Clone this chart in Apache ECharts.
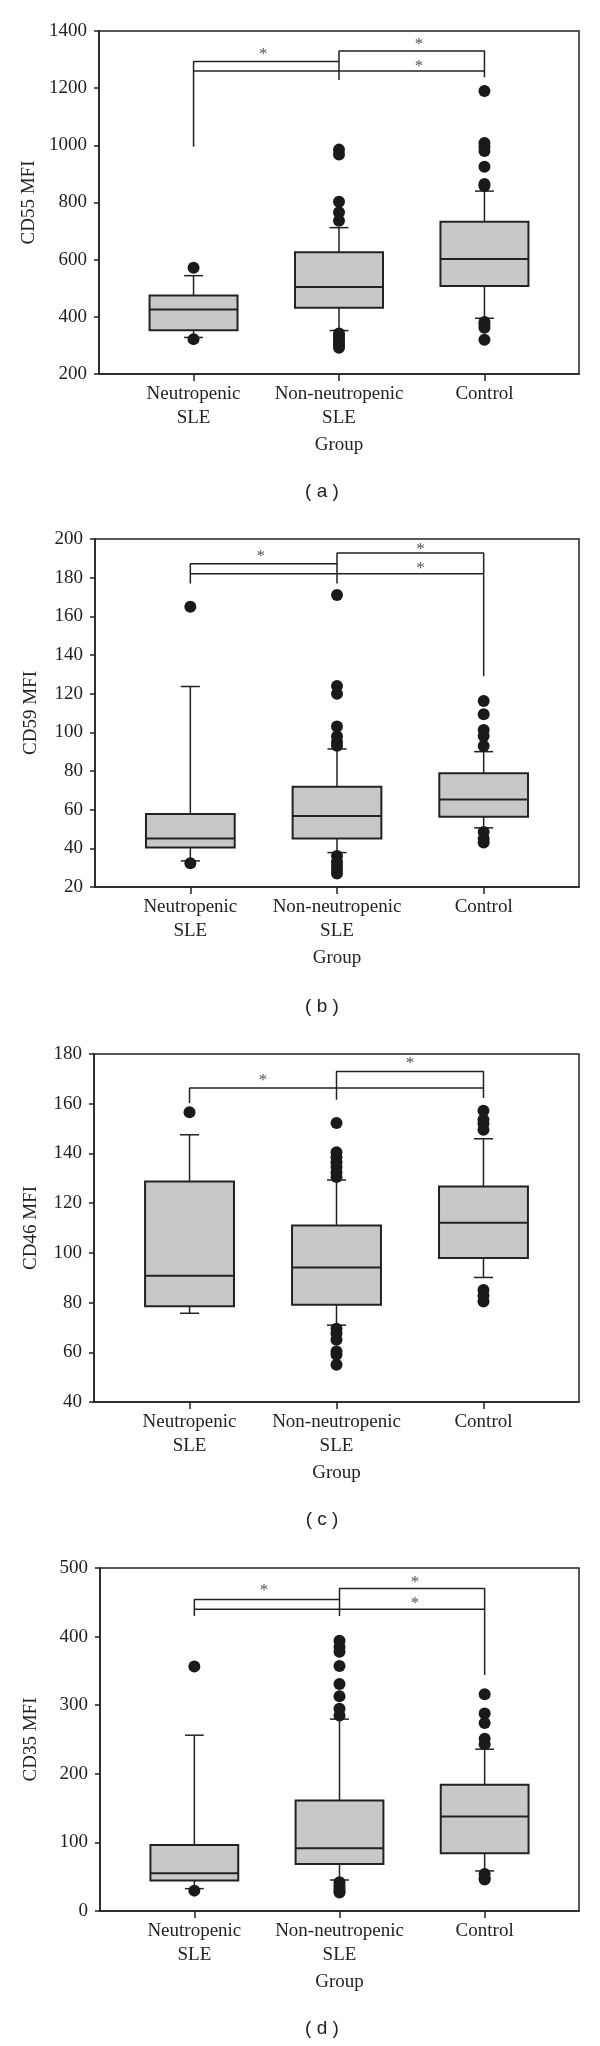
<!DOCTYPE html>
<html><head><meta charset="utf-8">
<script src="https://cdn.jsdelivr.net/npm/echarts@6/dist/echarts.min.js"></script>
<style>html,body{margin:0;padding:0;background:#fff}#c{width:600px;height:2046px}</style>
</head><body><div id="c"></div>
<script>
// ---------- DATA ----------
const categories = ['Neutropenic\nSLE', 'Non-neutropenic\nSLE', 'Control'];
const groupName = 'Group';
const panelLabels = ['( a )', '( b )', '( c )', '( d )'];
const yNames = ['CD55 MFI', 'CD59 MFI', 'CD46 MFI', 'CD35 MFI'];
const yTicks = [[200, 1400, 200], [20, 200, 20], [40, 180, 20], [0, 500, 100]];

// box stats per group: [lower whisker, Q1, median, Q3, upper whisker]
const cd55Box = [[328, 353, 426, 475, 544], [352, 432, 504, 626, 712], [395, 508, 602, 733, 840]];
const cd59Box = [[33.5, 40.4, 45.1, 57.7, 123.7], [37.8, 45.1, 56.7, 71.9, 91.4], [50.6, 56.3, 65.3, 78.8, 90]];
const cd46Box = [[75.7, 78.5, 90.8, 128.7, 147.5], [70.9, 79.1, 94.1, 111, 129.3], [90.1, 97.9, 112.1, 126.7, 145.9]];
const cd35Box = [[32.6, 44.3, 55, 96.3, 256.3], [45.2, 68.6, 91.4, 161, 279.7], [58.4, 84.1, 137.6, 183.9, 235.9]];

// outliers: [group index, value]
const cd55Out = [[0, 572], [0, 322], [1, 985], [1, 968], [1, 803], [1, 766], [1, 736], [1, 342], [1, 333], [1, 322], [1, 312], [1, 302], [1, 292],
  [2, 1190], [2, 1008], [2, 995], [2, 980], [2, 925], [2, 865], [2, 858], [2, 382], [2, 372], [2, 362], [2, 320]];
const cd59Out = [[0, 165], [0, 32.3], [1, 171], [1, 124], [1, 120], [1, 103], [1, 98], [1, 95], [1, 93], [1, 36], [1, 33], [1, 31], [1, 29], [1, 27],
  [2, 116.2], [2, 109.3], [2, 101.2], [2, 98.1], [2, 92.9], [2, 48.5], [2, 45], [2, 43]];
const cd46Out = [[0, 156.6], [1, 152.2], [1, 140.5], [1, 138.5], [1, 136.5], [1, 134.5], [1, 132.3], [1, 130.5],
  [1, 69.5], [1, 67.7], [1, 65], [1, 60.3], [1, 59], [1, 55], [2, 157.2], [2, 153.6], [2, 152], [2, 149.5], [2, 85.1], [2, 82.7], [2, 80.4]];
const cd35Out = [[0, 356.5], [0, 29.7], [1, 394], [1, 385], [1, 378], [1, 357], [1, 331], [1, 313], [1, 295], [1, 285],
  [1, 42], [1, 37], [1, 33], [1, 29], [1, 27], [2, 316], [2, 288], [2, 274], [2, 251], [2, 243], [2, 54], [2, 48], [2, 46]];

// significance brackets: polylines in [group position, value]
const cd55Brackets = [[[0, 995], [0, 1293], [1, 1293]], [[0, 1260], [2, 1260]], [[1, 1229], [1, 1330], [2, 1330], [2, 1238]]];
const cd59Brackets = [[[0, 177], [0, 187.2], [1, 187.2]], [[0, 182], [2, 182]], [[1, 177], [1, 192.7], [2, 192.7], [2, 129]]];
const cd46Brackets = [[[0, 160.3], [0, 166.3], [2, 166.3], [2, 162.3]], [[1, 161.6], [1, 173], [2, 173], [2, 166.3]]];
const cd35Brackets = [[[0, 430], [0, 454], [1, 454]], [[0, 440], [2, 440]], [[1, 430], [1, 470], [2, 470], [2, 344]]];

// asterisk positions: [group position, value]
const cd55Stars = [[0.48, 1318], [1.55, 1353], [1.55, 1275]];
const cd59Stars = [[0.48, 191], [1.57, 194.8], [1.57, 184.5]];
const cd46Stars = [[0.5, 169.3], [1.5, 176]];
const cd35Stars = [[0.48, 467], [1.52, 479], [1.52, 448]];

// ---------- LAYOUT ----------
const boxes = [cd55Box, cd59Box, cd46Box, cd35Box];
const outs = [cd55Out, cd59Out, cd46Out, cd35Out];
const brackets = [cd55Brackets, cd59Brackets, cd46Brackets, cd35Brackets];
const stars = [cd55Stars, cd59Stars, cd46Stars, cd35Stars];
const gridTops = [31, 539, 1054, 1568];
const gridHeights = [343, 348, 348, 343];
const gridLefts = [99, 95, 94, 100];
const labelYs = [492, 1007, 1520, 2029];

const SERIF = '"Liberation Serif", "DejaVu Serif", serif';
const INK = '#222';

function renderBox(params, api) {
  const x = api.value(0);
  const pLo = api.coord([x, api.value(1)]);
  const pQ1 = api.coord([x, api.value(2)]);
  const pMed = api.coord([x, api.value(3)]);
  const pQ3 = api.coord([x, api.value(4)]);
  const pHi = api.coord([x, api.value(5)]);
  const bw = api.size([0.605, 0])[0];
  const cw = api.size([0.13, 0])[0];
  const cx = pQ1[0];
  const ls = { stroke: INK, lineWidth: 1.5 };
  return {
    type: 'group', children: [
      { type: 'line', shape: { x1: cx, y1: pQ3[1], x2: cx, y2: pHi[1] }, style: ls },
      { type: 'line', shape: { x1: cx, y1: pQ1[1], x2: cx, y2: pLo[1] }, style: ls },
      { type: 'line', shape: { x1: cx - cw / 2, y1: pHi[1], x2: cx + cw / 2, y2: pHi[1] }, style: ls },
      { type: 'line', shape: { x1: cx - cw / 2, y1: pLo[1], x2: cx + cw / 2, y2: pLo[1] }, style: ls },
      { type: 'rect', shape: { x: cx - bw / 2, y: pQ3[1], width: bw, height: pQ1[1] - pQ3[1] }, style: { fill: '#c8c8ca', stroke: INK, lineWidth: 2 } },
      { type: 'line', shape: { x1: cx - bw / 2, y1: pMed[1], x2: cx + bw / 2, y2: pMed[1] }, style: { stroke: INK, lineWidth: 2 } }
    ]
  };
}
function renderStar(params, api) {
  const p = api.coord([api.value(0), api.value(1)]);
  return { type: 'text', x: p[0], y: p[1], style: { text: '*', fill: '#555', font: '17px ' + SERIF, align: 'center', verticalAlign: 'middle' } };
}

const grid = [], xAxis = [], yAxis = [], series = [], graphic = [];
for (let i = 0; i < 4; i++) {
  grid.push({ left: gridLefts[i], right: 21, top: gridTops[i], height: gridHeights[i], show: true, borderColor: INK, borderWidth: 1.5, backgroundColor: 'transparent' });
  xAxis.push({
    gridIndex: i, type: 'value', min: -0.65, max: 2.65,
    name: groupName, nameLocation: 'middle', nameGap: 62,
    nameTextStyle: { fontFamily: SERIF, fontSize: 19, color: INK },
    splitLine: { show: false },
    axisLine: { onZero: false, lineStyle: { color: INK, width: 1.5 } },
    axisTick: { show: true, length: 7, lineStyle: { color: INK, width: 1.5 }, customValues: [0, 1, 2] },
    axisLabel: { customValues: [0, 1, 2], formatter: v => categories[Math.round(v)], fontFamily: SERIF, fontSize: 19, color: INK, lineHeight: 24, margin: 8 }
  });
  yAxis.push({
    gridIndex: i, type: 'value', min: yTicks[i][0], max: yTicks[i][1], interval: yTicks[i][2],
    name: yNames[i], nameLocation: 'middle', nameGap: gridLefts[i] - 31 - 10,
    nameTextStyle: { fontFamily: SERIF, fontSize: 19, color: INK },
    splitLine: { show: false },
    axisLine: { show: true, onZero: false, lineStyle: { color: INK, width: 1.5 } },
    axisTick: { show: true, length: 5, lineStyle: { color: INK, width: 1.5 } },
    axisLabel: { formatter: v => String(v), fontFamily: SERIF, fontSize: 19, color: INK, margin: 12 }
  });
  series.push({
    type: 'custom', xAxisIndex: i, yAxisIndex: i, renderItem: renderBox, z: 2,
    encode: { x: 0, y: [1, 2, 3, 4, 5] },
    data: boxes[i].map((b, k) => [k].concat(b))
  });
  brackets[i].forEach(poly => series.push({
    type: 'line', xAxisIndex: i, yAxisIndex: i, data: poly, symbol: 'none', z: 3,
    lineStyle: { color: INK, width: 1.5 }, silent: true
  }));
  series.push({
    type: 'custom', xAxisIndex: i, yAxisIndex: i, renderItem: renderStar, z: 4,
    encode: { x: 0, y: 1 }, data: stars[i]
  });
  series.push({
    type: 'scatter', xAxisIndex: i, yAxisIndex: i, data: outs[i], symbol: 'circle', symbolSize: 12, z: 5,
    itemStyle: { color: '#1a1a1a', opacity: 1 }
  });
  graphic.push({ type: 'text', x: 322, y: labelYs[i], style: { text: panelLabels[i], font: '19px "Liberation Sans", Arial, sans-serif', fill: INK, align: 'center', verticalAlign: 'middle' } });
}

const chart = echarts.init(document.getElementById('c'), null, { renderer: 'canvas' });
chart.setOption({ animation: false, backgroundColor: '#fff', grid, xAxis, yAxis, series, graphic });
</script></body></html>
